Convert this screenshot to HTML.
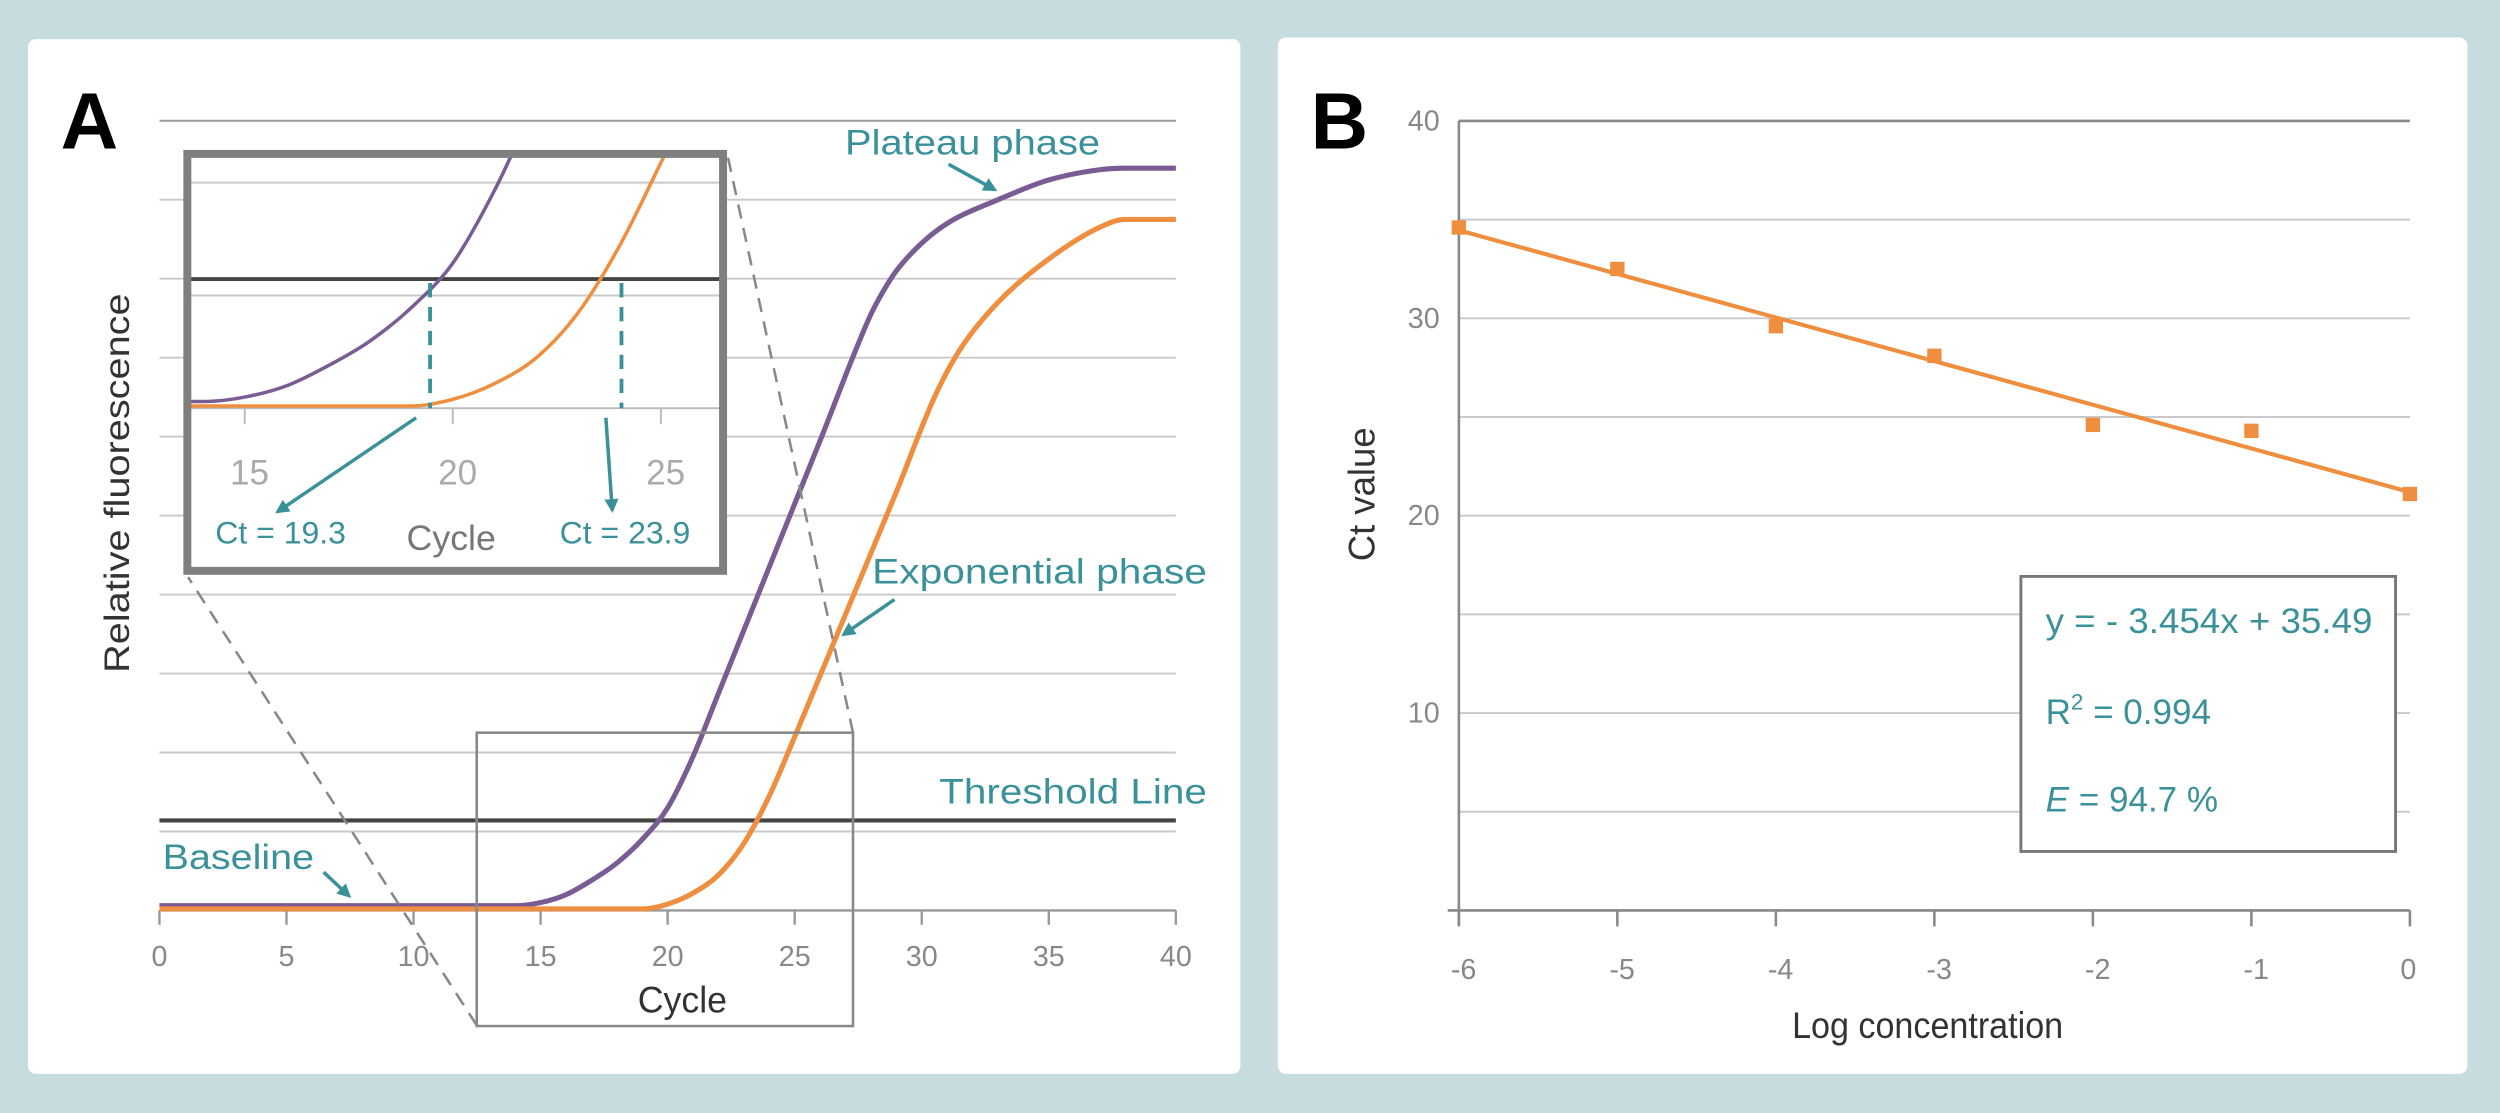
<!DOCTYPE html>
<html><head><meta charset="utf-8">
<style>
html,body{margin:0;padding:0;background:#c7dcdf;}
svg{display:block;}
text{font-family:"Liberation Sans",sans-serif;}
</style></head>
<body>
<svg id="fig" width="2500" height="1113" viewBox="0 0 1568 698" xmlns="http://www.w3.org/2000/svg">
<defs>
  <clipPath id="insetClip"><rect x="117.5" y="96.5" width="336" height="261.5"/></clipPath>
  <marker id="ah" viewBox="0 0 10 10" refX="8" refY="5" markerWidth="4" markerHeight="4" orient="auto-start-reverse">
    <path d="M0,0 L10,5 L0,10 z" fill="#3a9199"/>
  </marker>
</defs>
<rect x="0" y="0" width="1568" height="698" fill="#c7dcdf"/>
<rect x="17.5" y="24.5" width="760.5" height="649" rx="5" fill="#fff"/>
<rect x="801.5" y="23.5" width="746" height="650" rx="5" fill="#fff"/>

<g id="gA"></g>
<g id="gB"></g>
</svg>

<script>
// ---------- Panel A data ----------
const cycleTicks = [0,5,10,15,20,25,30,35,40];
const purpleCycles = [0,14,15,16,17,18,19,20,21,22,24,26,28,28.5,29,30,31,33,35,37,38,40];
const purpleValues = [0.06,0.06,0.1,0.2,0.38,0.6,0.9,1.3,1.95,2.75,4.35,5.95,7.55,7.85,8.1,8.45,8.7,9.0,9.25,9.38,9.4,9.4];
const orangeCycles = [0,19,20,21,22,23,24,25,27,29,30.5,31.5,33,35,37,38,40];
const orangeValues = [0.02,0.02,0.08,0.22,0.45,0.85,1.45,2.2,3.75,5.3,6.5,7.1,7.7,8.25,8.65,8.75,8.75];
const thresholdValue = 1.15;
const insetTicks = [15,20,25];
const ctValues = [19.3, 23.9];
const ctLabels = ["Ct = 19.3","Ct = 23.9"];

// ---------- Panel B data ----------
const logConc = [-6,-5,-4,-3,-2,-1,0];
const ctMeasured = [34.6,32.5,29.6,28.1,24.6,24.3,21.1];
const bXTicks = [-6,-5,-4,-3,-2,-1,0];
const bYTicks = [0,5,10,15,20,25,30,35,40];
const bYLabels = {10:"10",20:"20",30:"30",40:"40"};

const NS="http://www.w3.org/2000/svg";
function mk(parent,tag,attrs,txt){const e=document.createElementNS(NS,tag);for(const k in attrs)e.setAttribute(k,attrs[k]);if(txt!==undefined)e.textContent=txt;parent.appendChild(e);return e;}

// monotone cubic path
function smoothPath(xs,ys,fx,fy){
  const X=xs.map(fx), Y=ys.map(fy), n=X.length;
  const d=[],m=[];
  for(let i=0;i<n-1;i++)d.push((Y[i+1]-Y[i])/(X[i+1]-X[i]));
  m[0]=d[0]; m[n-1]=d[n-2];
  for(let i=1;i<n-1;i++){ if(d[i-1]*d[i]<=0)m[i]=0; else m[i]=(d[i-1]+d[i])/2; }
  for(let i=0;i<n-1;i++){
    if(d[i]===0){m[i]=0;m[i+1]=0;continue;}
    const a=m[i]/d[i], b=m[i+1]/d[i], s=a*a+b*b;
    if(s>9){const t=3/Math.sqrt(s);m[i]=t*a*d[i];m[i+1]=t*b*d[i];}
  }
  let p='M'+X[0].toFixed(2)+','+Y[0].toFixed(2);
  for(let i=0;i<n-1;i++){
    const h=(X[i+1]-X[i])/3;
    p+=' C'+(X[i]+h).toFixed(2)+','+(Y[i]+m[i]*h).toFixed(2)+' '+(X[i+1]-h).toFixed(2)+','+(Y[i+1]-m[i+1]*h).toFixed(2)+' '+X[i+1].toFixed(2)+','+Y[i+1].toFixed(2);
  }
  return p;
}

// ---------- Panel A ----------
const gA=document.getElementById('gA');
const ax=c=>100+c*(637.5/40);
const ay=v=>571-v*49.53;
const GRID="#c9c9c9", TEAL="#3a9199", PURPLE="#7a5c94", ORANGE="#ee8e3e";

for(let i=1;i<=10;i++){
  const l=mk(gA,'line',{x1:100,x2:737.5,y1:ay(i),y2:ay(i),stroke:i==10?"#999":GRID,'stroke-width':1.2});
  
  
}
const axA=mk(gA,'line',{x1:100,x2:737.5,y1:571,y2:571,stroke:"#999",'stroke-width':1.5});


cycleTicks.forEach(c=>{
  const t=mk(gA,'line',{x1:ax(c),x2:ax(c),y1:571,y2:580,stroke:"#999",'stroke-width':1.5});
  
  
  const lb=mk(gA,'text',{x:ax(c),y:606,'text-anchor':'middle','font-size':18,fill:'#888'},String(c));
  
  
});
const thr=mk(gA,'line',{x1:100,x2:737.5,y1:ay(thresholdValue)+0.5,y2:ay(thresholdValue)+0.5,stroke:"#444",'stroke-width':2.6});



const pc=mk(gA,'path',{d:smoothPath(purpleCycles,purpleValues,ax,ay),fill:'none',stroke:PURPLE,'stroke-width':3.2,'stroke-linejoin':'round'});


const oc=mk(gA,'path',{d:smoothPath(orangeCycles,orangeValues,ax,ay),fill:'none',stroke:ORANGE,'stroke-width':3.2,'stroke-linejoin':'round'});



// zoom box and connecting dashed lines
const zb=mk(gA,'rect',{x:299,y:459.5,width:236,height:184,fill:'none',stroke:'#888','stroke-width':1.6});


const d1=mk(gA,'line',{x1:299,y1:643,x2:118,y2:362,stroke:'#888','stroke-width':1.6,'stroke-dasharray':'9,6'});


const d2=mk(gA,'line',{x1:535,y1:459.5,x2:456,y2:96,stroke:'#888','stroke-width':1.6,'stroke-dasharray':'9,6'});



// inset
const inset=mk(gA,'g',{});


mk(inset,'rect',{x:117.5,y:96.5,width:336,height:261.5,fill:'#fff'});
const ix=c=>153.5+(c-15)*26.1;
const iy=v=>256-v*70;
[114.5,185.3].forEach(y=>{
  const l=mk(inset,'line',{x1:117.5,x2:453.5,y1:y,y2:y,stroke:GRID,'stroke-width':1.2});
  
  
});
mk(inset,'line',{x1:117.5,x2:453.5,y1:256,y2:256,stroke:'#bbb','stroke-width':1.2});
insetTicks.forEach(c=>{
  const t=mk(inset,'line',{x1:ix(c),x2:ix(c),y1:256,y2:266,stroke:'#bbb','stroke-width':1.2});
  
  
  const lb=mk(inset,'text',{x:ix(c)+3,y:304,'text-anchor':'middle','font-size':22,fill:'#aaa'},String(c));
  
  
});
const ithr=mk(inset,'line',{x1:117.5,x2:453.5,y1:iy(thresholdValue)-0.5,y2:iy(thresholdValue)-0.5,stroke:'#444',"stroke-width":2.4});


const cg=mk(inset,'g',{'clip-path':'url(#insetClip)'});
const ipc=mk(cg,'path',{d:smoothPath(purpleCycles,purpleValues,ix,iy),fill:'none',stroke:PURPLE,'stroke-width':2.2});


const ioc=mk(cg,'path',{d:smoothPath(orangeCycles,orangeValues,ix,iy),fill:'none',stroke:ORANGE,'stroke-width':2.2});


ctValues.forEach((ct,i)=>{
  const x=ix(ct)+4;
  const dl=mk(inset,'line',{x1:x,x2:x,y1:iy(thresholdValue)+2,y2:256,stroke:TEAL,'stroke-width':2.4,'stroke-dasharray':'9,6'});
  
  
  const tx=mk(inset,'text',{x:i==0?176:392,y:341,'text-anchor':'middle','font-size':20,fill:TEAL,textLength:82,lengthAdjust:'spacingAndGlyphs'},ctLabels[i]);
  
  
});
const ar1=mk(inset,'line',{x1:261,y1:262,x2:174,y2:321,stroke:TEAL,'stroke-width':2.2,'marker-end':'url(#ah)'});


const ar2=mk(inset,'line',{x1:380,y1:262,x2:384,y2:320,stroke:TEAL,'stroke-width':2.2,'marker-end':'url(#ah)'});


const ic=mk(inset,'text',{x:283,y:345,'text-anchor':'middle','font-size':22,fill:'#777',textLength:56,lengthAdjust:'spacingAndGlyphs'},'Cycle');


mk(inset,'rect',{x:117.5,y:96.5,width:336,height:261.5,fill:'none',stroke:'#7f7f7f','stroke-width':5});

// labels A
function lab(g,x,y,txt,size,fill,name,extra){const t=mk(g,'text',Object.assign({x:x,y:y,'font-size':size,fill:fill},extra||{}),txt);return t;}
const SG={lengthAdjust:'spacingAndGlyphs'};
lab(gA,38,93,'A',50,'#000','panel-a-label',{'font-weight':'bold'});
lab(gA,428,635,'Cycle',23,'#333','a-x-axis-title',Object.assign({'text-anchor':'middle',textLength:56},SG));
lab(gA,0,0,'Relative fluorescence',22,'#333','a-y-axis-title',Object.assign({'text-anchor':'middle',transform:'translate(81,303) rotate(-90)',textLength:238},SG));
lab(gA,530,97,'Plateau phase',22,TEAL,'plateau-phase-label',Object.assign({textLength:160},SG));
lab(gA,547,366,'Exponential phase',22,TEAL,'exponential-phase-label',Object.assign({textLength:210},SG));
lab(gA,589,504,'Threshold Line',22,TEAL,'threshold-line-label',Object.assign({textLength:168},SG));
lab(gA,102,545,'Baseline',22,TEAL,'baseline-label',Object.assign({textLength:95},SG));
[[595,103,624,119,'plateau-arrow'],[561,376,529,398,'exponential-arrow'],[203,547,219,562,'baseline-arrow']].forEach(a=>{
  const l=mk(gA,'line',{x1:a[0],y1:a[1],x2:a[2],y2:a[3],stroke:TEAL,'stroke-width':2.2,'marker-end':'url(#ah)'});
  
  
});

// ---------- Panel B ----------
const gB=document.getElementById('gB');
const bx=v=>1511.5+v*99.42;
const by=v=>571-v*12.38;
bYTicks.forEach(v=>{
  if(v===0)return;
  const l=mk(gB,'line',{x1:915,x2:1511.5,y1:by(v),y2:by(v),stroke:v==40?'#888':GRID,'stroke-width':v==40?1.6:1.2});
  
  
  if(bYLabels[v]){
    const t=mk(gB,'text',{x:903,y:by(v)+6,'text-anchor':'end','font-size':18,fill:'#888'},bYLabels[v]);
    
    
  }
});
const bya=mk(gB,'line',{x1:915,x2:915,y1:75.7,y2:580,stroke:'#888','stroke-width':1.6});


const bxa=mk(gB,'line',{x1:908,x2:1511.5,y1:571,y2:571,stroke:'#888','stroke-width':1.6});


bXTicks.forEach(v=>{
  const t=mk(gB,'line',{x1:bx(v),x2:bx(v),y1:571,y2:581,stroke:'#888','stroke-width':1.6});
  
  
  const l=mk(gB,'text',{x:bx(v)+(v<0?3:-1),y:614,'text-anchor':'middle','font-size':18,fill:'#888'},v<0?'-'+(-v):String(v));
  
  
});
// least-squares fit line from data
const n=logConc.length;
const mx=logConc.reduce((a,b)=>a+b,0)/n, my=ctMeasured.reduce((a,b)=>a+b,0)/n;
let sxy=0,sxx=0;logConc.forEach((x,i)=>{sxy+=(x-mx)*(ctMeasured[i]-my);sxx+=(x-mx)*(x-mx);});
const slope=sxy/sxx, icp=my-slope*mx;
const xmin=Math.min(...logConc), xmax=Math.max(...logConc);
const fit=mk(gB,'line',{x1:bx(xmin),y1:by(icp+slope*xmin),x2:bx(xmax),y2:by(icp+slope*xmax),stroke:ORANGE,'stroke-width':2.6});


logConc.forEach((x,i)=>{
  const r=mk(gB,'rect',{x:bx(x)-4.5,y:by(ctMeasured[i])-4.5,width:9,height:9,fill:ORANGE});
  
  
});
const sb=mk(gB,'rect',{x:1267.5,y:361.5,width:235,height:172.5,fill:'#fff',stroke:'#777','stroke-width':1.8});


lab(gB,1283,397,'y = - 3.454x + 35.49',22,TEAL,'regression-equation',Object.assign({textLength:205},SG));
const r2=lab(gB,1283,454,'',22,TEAL,'r-squared');
r2.innerHTML='R<tspan font-size="14" dy="-9">2</tspan><tspan dy="9"> = 0.994</tspan>';
const ef=lab(gB,1283,509,'',22,TEAL,'efficiency');
ef.innerHTML='<tspan font-style="italic">E</tspan> = 94.7 %';
lab(gB,822,93,'B',50,'#000','panel-b-label',{'font-weight':'bold'});
lab(gB,1209,651,'Log concentration',23,'#333','b-x-axis-title',Object.assign({'text-anchor':'middle',textLength:170},SG));
lab(gB,0,0,'Ct value',23,'#333','b-y-axis-title',Object.assign({'text-anchor':'middle',transform:'translate(862,310) rotate(-90)',textLength:84},SG));
</script>
</body></html>
